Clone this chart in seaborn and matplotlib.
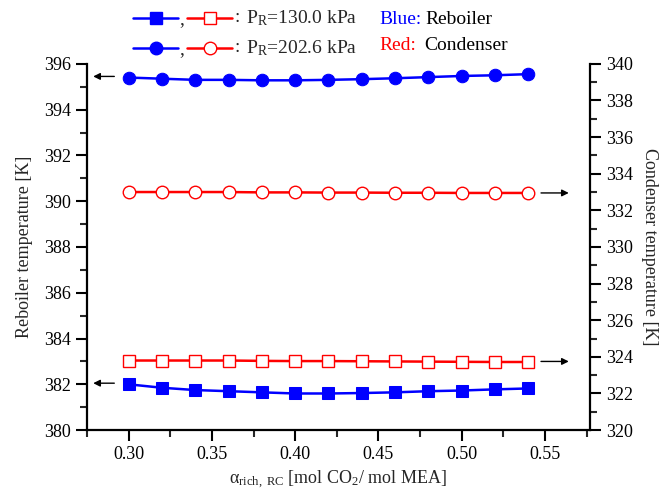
import numpy as np
import pandas as pd
import matplotlib
matplotlib.use("Agg")
import matplotlib.pyplot as plt
from matplotlib.lines import Line2D
from matplotlib.ticker import MultipleLocator
import seaborn as sns

alpha = [0.30, 0.32, 0.34, 0.36, 0.38, 0.40, 0.42, 0.44, 0.46, 0.48, 0.50, 0.52, 0.54]
reb_130 = [382.0, 381.85, 381.75, 381.7, 381.65, 381.6, 381.6, 381.62, 381.65, 381.7, 381.73, 381.78, 381.82]
reb_202 = [395.4, 395.35, 395.3, 395.3, 395.28, 395.28, 395.3, 395.33, 395.37, 395.42, 395.47, 395.5, 395.55]
con_130 = [323.8, 323.8, 323.8, 323.8, 323.78, 323.77, 323.77, 323.76, 323.75, 323.74, 323.73, 323.72, 323.72]
con_202 = [333.0, 333.0, 333.0, 333.0, 332.98, 332.98, 332.97, 332.97, 332.96, 332.96, 332.95, 332.95, 332.95]

sns.set_style("ticks")
plt.rcParams['font.family'] = ['Liberation Serif', 'DejaVu Serif']
plt.rcParams['mathtext.fontset'] = 'custom'
plt.rcParams['mathtext.rm'] = 'Liberation Serif'
plt.rcParams['mathtext.it'] = 'Liberation Serif:italic'

fig = plt.figure(figsize=(6.65, 4.91), dpi=100)
ax = fig.add_axes([0.131, 0.124, 0.756, 0.746])
ax2 = ax.twinx()

df = pd.DataFrame({"alpha": alpha, "reb_130": reb_130, "reb_202": reb_202,
                   "con_130": con_130, "con_202": con_202})

BLUE = "#0000ff"
RED = "#ff0000"
sns.lineplot(data=df, x="alpha", y="reb_130", ax=ax, color=BLUE, marker="s", markersize=8,
             markeredgecolor=BLUE, markerfacecolor=BLUE, linewidth=1.8)
sns.lineplot(data=df, x="alpha", y="reb_202", ax=ax, color=BLUE, marker="o", markersize=9,
             markeredgecolor=BLUE, markerfacecolor=BLUE, linewidth=1.8)
sns.lineplot(data=df, x="alpha", y="con_130", ax=ax2, color=RED, marker="s", markersize=8,
             markeredgecolor=RED, markerfacecolor="white", markeredgewidth=1.0, linewidth=1.8)
sns.lineplot(data=df, x="alpha", y="con_202", ax=ax2, color=RED, marker="o", markersize=9,
             markeredgecolor=RED, markerfacecolor="white", markeredgewidth=1.0, linewidth=1.8)

ax.set_xlim(0.275, 0.577)
ax.set_ylim(380, 396)
ax2.set_ylim(320, 340)
ax.xaxis.set_major_locator(MultipleLocator(0.05))
ax.xaxis.set_minor_locator(MultipleLocator(0.025))
ax.yaxis.set_major_locator(MultipleLocator(2))
ax.yaxis.set_minor_locator(MultipleLocator(1))
ax2.yaxis.set_major_locator(MultipleLocator(2))
ax2.yaxis.set_minor_locator(MultipleLocator(1))
ax.xaxis.set_major_formatter(matplotlib.ticker.FormatStrFormatter("%.2f"))

for a in (ax, ax2):
    a.spines["top"].set_visible(False)
    for s in a.spines.values():
        s.set_linewidth(1.6)
        s.set_color("black")
    a.tick_params(which="major", direction="out", length=8, width=1.5, labelsize=13, colors="black")
    a.tick_params(which="minor", direction="out", length=5, width=1.5)
ax.spines["right"].set_visible(False)
ax2.spines["left"].set_visible(False)
ax2.spines["bottom"].set_visible(False)

ax.set_xlabel(r"α$_{\mathrm{rich,\ RC}}$ [mol CO$_2$/ mol MEA]", fontsize=13, labelpad=4)
ax.set_ylabel("Reboiler temperature [K]", fontsize=13, labelpad=8)
ax2.set_ylabel("Condenser temperature [K]", fontsize=13, rotation=-90, labelpad=18)

arrow = dict(arrowstyle="-|>", color="black", lw=1.0, mutation_scale=10)
ax.annotate("", xy=(0.277, 395.45), xytext=(0.293, 395.45), arrowprops=arrow)
ax.annotate("", xy=(0.277, 382.05), xytext=(0.293, 382.05), arrowprops=arrow)
ax2.annotate("", xy=(0.566, 332.95), xytext=(0.546, 332.95), arrowprops=arrow)
ax2.annotate("", xy=(0.566, 323.75), xytext=(0.546, 323.75), arrowprops=arrow)

# top legend built from text and line samples
W, H = 665, 491
def fx(px): return px / W
def fy(py): return 1 - py / H

for row_y, mk, lab in [(18, "s", r"P$_\mathrm{R}$=130.0 kPa"), (48, "o", r"P$_\mathrm{R}$=202.6 kPa")]:
    fig.add_artist(Line2D([fx(133), fx(178)], [fy(row_y)] * 2, color=BLUE, lw=1.8))
    fig.add_artist(Line2D([fx(155.5)], [fy(row_y)], marker=mk, color=BLUE, markersize=9 if mk == "o" else 8, markerfacecolor=BLUE, markeredgecolor=BLUE))
    fig.text(fx(179), fy(row_y + 2), ",", fontsize=14, va="center", ha="left")
    fig.add_artist(Line2D([fx(187), fx(232)], [fy(row_y)] * 2, color=RED, lw=1.8))
    fig.add_artist(Line2D([fx(209.5)], [fy(row_y)], marker=mk, color=RED, markersize=9 if mk == "o" else 8, markerfacecolor="white", markeredgecolor=RED, markeredgewidth=1.0))
    fig.text(fx(235), fy(row_y), ":", fontsize=14, va="center", ha="left")
    fig.text(fx(246), fy(row_y), lab, fontsize=14, va="center", ha="left")

fig.text(fx(379), fy(20), "Blue:", color=BLUE, fontsize=14, va="center", ha="left")
fig.text(fx(425), fy(20), "Reboiler", color="black", fontsize=14, va="center", ha="left")
fig.text(fx(379), fy(46), "Red:", color=RED, fontsize=14, va="center", ha="left")
fig.text(fx(424), fy(46), "Condenser", color="black", fontsize=14, va="center", ha="left")

fig.savefig("out.png", dpi=100)
